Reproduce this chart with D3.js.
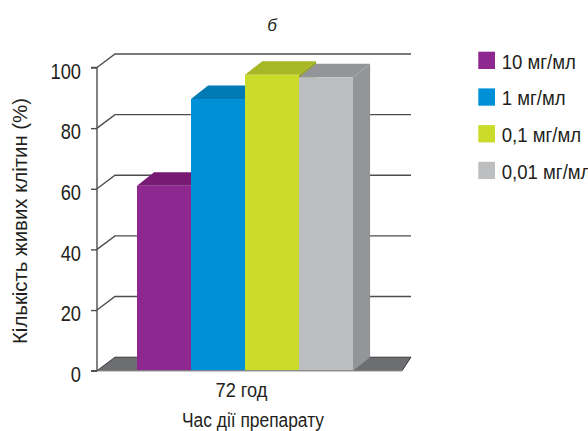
<!DOCTYPE html>
<html><head><meta charset="utf-8">
<script src="https://cdn.jsdelivr.net/npm/d3@7"></script>
<style>body{margin:0;background:#fff}svg{display:block}text{font-family:"Liberation Sans",Arial,sans-serif;fill:#231f20}</style>
</head><body>
<svg id="c" width="588" height="431"></svg>
<script>
const categories = ["72 год"];
const seriesNames = ["10 мг/мл", "1 мг/мл", "0,1 мг/мл", "0,01 мг/мл"];
const seriesValues = [61, 89.6, 97.6, 96.8];
const frontColors = ["#8e278f", "#0090d7", "#cbdb2a", "#bcbec0"];
const topColors = ["#761a73", "#007ab5", "#a8b725", "#939598"];
const sideColors = ["#6a1667", "#006a9e", "#95a31f", "#939598"];
const yTicks = [0, 20, 40, 60, 80, 100];
const title = "б";
const yTitle = "Кількість живих клітин (%)";
const xTitle = "Час дії препарату";

const svg = d3.select("#c");
const axisX = 97, plotRight = 402;
const depthX = 18, depthY = 13.5;
const y = d3.scaleLinear().domain([0, 100]).range([370.7, 67.5]);
const xBars = d3.scaleBand().domain(d3.range(seriesValues.length)).range([137, 353]).padding(0);
const xCat = d3.scaleBand().domain(categories).range([axisX, plotRight]);

function condense(sel, k) {
  sel.each(function() {
    const w = this.getComputedTextLength();
    d3.select(this).attr("textLength", w * k).attr("lengthAdjust", "spacingAndGlyphs");
  });
}

// floor
const y0 = y(0);
svg.append("path")
  .attr("d", `M${axisX},${y0}L${axisX+depthX},${y0-depthY}L${plotRight+depthX/2},${y0-depthY}L${plotRight},${y0}Z`)
  .attr("fill", "#6d6e71").attr("stroke", "#3a3a3c").attr("stroke-width", 1);

// back grid lines with diagonals
const grid = svg.append("g");
yTicks.filter(t => t > 0).forEach(t => {
  grid.append("path")
    .attr("d", `M${axisX},${y(t)}L${axisX+depthX},${y(t)-depthY}L${plotRight+depthX/2},${y(t)-depthY}`)
    .attr("fill", "none").attr("stroke", "#4d4d4f").attr("stroke-width", 1.4);
});

// bars
seriesValues.forEach((v, i) => {
  const x0 = xBars(i), x1 = x0 + xBars.bandwidth();
  const yt = y(v);
  const g = svg.append("g");
  g.append("path")
    .attr("d", `M${x1},${yt}L${x1+depthX*0.95},${yt-depthY}L${x1+depthX*0.95},${y0-depthY}L${x1},${y0}Z`)
    .attr("fill", sideColors[i]);
  g.append("path")
    .attr("d", `M${x0},${yt}L${x0+depthX*0.95},${yt-depthY}L${x1+depthX*0.95},${yt-depthY}L${x1},${yt}Z`)
    .attr("fill", topColors[i]);
  g.append("rect").attr("x", x0).attr("y", yt).attr("width", x1 - x0).attr("height", y0 - yt)
    .attr("fill", frontColors[i]);
});

// baseline front edge
svg.append("line").attr("x1", axisX).attr("x2", plotRight).attr("y1", y0).attr("y2", y0)
  .attr("stroke", "#8a8a8c").attr("stroke-width", 1);

// left axis
const yAxis = d3.axisLeft(y).tickValues(yTicks).tickSize(6).tickPadding(10);
const ga = svg.append("g").attr("transform", `translate(${axisX},0)`).call(yAxis);
ga.select(".domain").attr("stroke", "#4d4d4f").attr("stroke-width", 1.4).attr("d", `M-6,${y(100)}H0V${y0}H-6`);
ga.selectAll(".tick line").attr("stroke", "#4d4d4f").attr("stroke-width", 1.4);
const tt = ga.selectAll(".tick text").attr("font-size", 21.5).attr("dy", "0.5em")
  .style("font-family", '"Liberation Sans",Arial,sans-serif').attr("fill", "#231f20");
condense(tt, 0.85);

// category label
svg.selectAll(".cat").data(categories).enter().append("text")
  .attr("x", d => xCat(d) + xCat.bandwidth() / 2 - 8).attr("y", 396.5)
  .attr("text-anchor", "middle").attr("font-size", 20).text(d => d)
  .attr("textLength", 52).attr("lengthAdjust", "spacingAndGlyphs");

// axis titles
svg.append("text").attr("x", 253).attr("y", 427).attr("text-anchor", "middle").attr("font-size", 20).text(xTitle)
  .attr("textLength", 142).attr("lengthAdjust", "spacingAndGlyphs");
svg.append("text").attr("transform", "translate(27,221) rotate(-90)").attr("text-anchor", "middle")
  .attr("font-size", 20).text(yTitle).attr("textLength", 246).attr("lengthAdjust", "spacingAndGlyphs");
svg.append("text").attr("x", 272).attr("y", 30.5).attr("text-anchor", "middle").attr("font-size", 17)
  .attr("font-style", "italic").text(title);

// legend
const lg = svg.append("g").attr("transform", "translate(478.3,51.7)");
seriesNames.forEach((n, i) => {
  const r = lg.append("g").attr("transform", `translate(0,${i * 36.7})`);
  r.append("rect").attr("width", 16.7).attr("height", 17.3).attr("fill", frontColors[i]);
  r.append("text").attr("x", 23.4).attr("y", 16.8).attr("font-size", 20).text(n).call(condense, 0.93);
});
</script>
</body></html>
